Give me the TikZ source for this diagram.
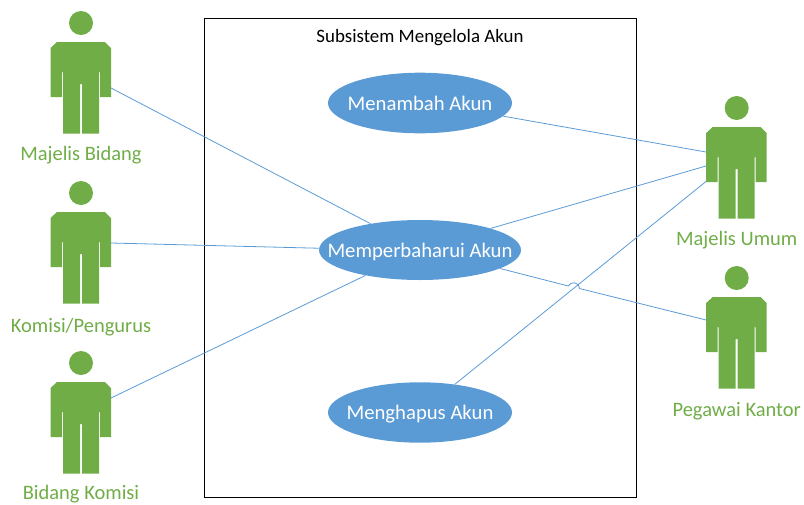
\documentclass[tikz,border=0pt]{standalone}
\usepackage{fontspec}
\setmainfont{Carlito}
\usetikzlibrary{shapes.geometric,calc}
\definecolor{ucblue}{HTML}{5B9BD5}
\definecolor{actgreen}{HTML}{70AD47}
\tikzset{
  usecase/.style={ellipse,fill=ucblue,draw=none,inner sep=0pt,text=white,font=\fontsize{20.7}{22}\selectfont},
  actorhead/.style={circle,fill=actgreen,draw=none,inner sep=0pt,minimum size=24pt},
  actorlabel/.style={text=actgreen,font=\fontsize{20.5}{22}\selectfont,inner sep=0pt,anchor=center},
  link/.style={draw=ucblue,line width=0.8pt},
  sysbox/.style={draw=black,line width=0.8pt,fill=none},
  systitle/.style={text=black,font=\fontsize{18.9}{20}\selectfont,inner sep=0pt}
}
\newcommand{\uctext}[1]{\makebox[0pt]{\raisebox{-7pt}[0pt][0pt]{#1}}}
\newcommand{\actorfig}[5]{% name, x, y of head centre, label, label y
  \node[actorhead] (#1) at (#2,#3) {};
  \fill[actgreen,shift={(#2,#3)}]
    (-24,19) -- (24,19) -- (30,25) -- (30,74) -- (19,74) -- (19,49) -- (18,49)
    -- (18,110.5) -- (1,110.5) -- (1,61) -- (-1,61) -- (-1,110.5) -- (-18,110.5)
    -- (-18,49) -- (-19,49) -- (-19,74) -- (-30.5,74) -- (-30.5,25) -- cycle;
  \node[actorlabel] (#1label) at (#2,#5) {#4};
}
\begin{document}
\begin{tikzpicture}[x=1pt,y=-1pt]
\useasboundingbox (0,0) rectangle (804,504);
\node[sysbox,minimum width=432pt,minimum height=479pt,inner sep=0pt] (sys) at (420,257.5) {};
\node[systitle] (systitle) at (420,37.7) {Subsistem Mengelola Akun};
\node[usecase,minimum width=184pt,minimum height=60.6pt] (tambah) at (420,103) {\uctext{Menambah Akun}};
\node[usecase,minimum width=202pt,minimum height=60pt] (baru) at (420,250) {\uctext{Memperbaharui Akun}};
\node[usecase,minimum width=184pt,minimum height=60.4pt] (hapus) at (420,412.5) {\uctext{Menghapus Akun}};
\actorfig{bidang}{81}{23}{Majelis Bidang}{155}
\actorfig{komisi}{81}{193}{Komisi/Pengurus}{327}
\actorfig{bkomisi}{81}{363}{Bidang Komisi}{494.5}
\actorfig{umum}{736.7}{108}{Majelis Umum}{240}
\actorfig{pegawai}{736.7}{278}{Pegawai Kantor}{411}
\coordinate (bidangR) at (111,88);
\coordinate (komisiR) at (111,243);
\coordinate (bkomisiR) at (111,398);
\coordinate (umumA) at (706,152);
\coordinate (umumB) at (706,166);
\coordinate (umumC) at (706,181.5);
\coordinate (pegawaiL) at (706,320);
\coordinate (jumpA) at (568.3,286);
\coordinate (jumpB) at (579.5,288.5);
\draw[link] (bidangR) -- (baru.152);
\draw[link] (komisiR) -- (baru.179);
\draw[link] (bkomisiR) -- (baru.205.5);
\draw[link] (tambah.-9.5) -- (umumA);
\draw[link] (baru.17) -- (umumB);
\draw[link] (hapus.39.2) -- (umumC);
\draw[link] (baru.-13.7) -- (jumpA) .. controls (570.5,281.5) and (578.5,281) .. (jumpB) -- (pegawaiL);
\end{tikzpicture}
\end{document}
